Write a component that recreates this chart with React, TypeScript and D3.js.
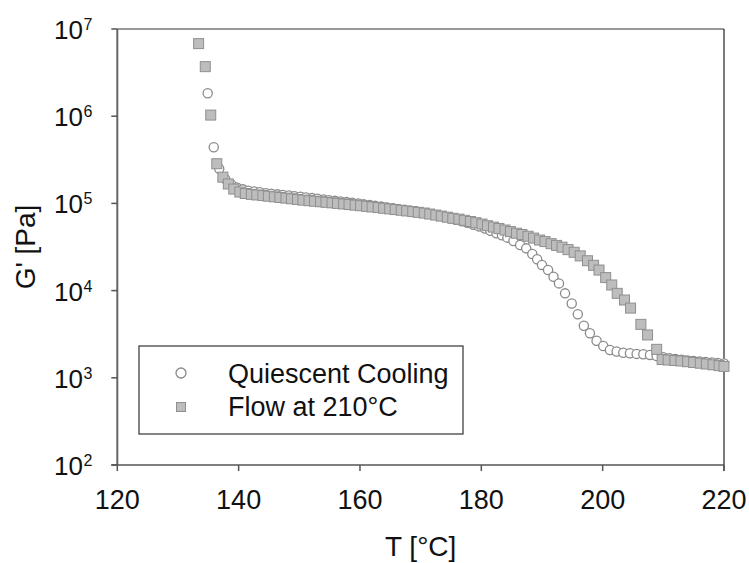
import React from "react";
import * as d3 from "d3";

const xTicks = [120, 140, 160, 180, 200, 220];
const yTickExps = [2, 3, 4, 5, 6, 7];

const flowT = [133.4, 134.5, 135.4, 136.4, 137.4, 138.3, 139.2, 140.2, 141.1, 142.1, 143.0, 144.0, 144.9, 145.9, 146.8, 147.8, 148.7, 149.7, 150.6, 151.6, 152.5, 153.5, 154.4, 155.4, 156.3, 157.3, 158.2, 159.2, 160.1, 161.1, 162.0, 163.0, 163.9, 164.9, 165.8, 166.8, 167.7, 168.7, 169.6, 170.6, 171.5, 172.5, 173.4, 174.4, 175.3, 176.3, 177.2, 178.2, 179.1, 180.1, 181.0, 182.0, 182.9, 183.9, 184.8, 185.8, 186.7, 187.7, 188.6, 189.6, 190.5, 191.5, 192.4, 193.3, 194.3, 195.3, 196.3, 197.5, 198.5, 199.4, 200.5, 201.5, 202.4, 203.6, 204.6, 206.3, 207.4, 208.9, 209.8, 210.8, 211.9, 212.9, 214.0, 215.0, 216.1, 217.1, 218.2, 219.2, 220.0];
const flowG = [6.8e6, 3.7e6, 1.03e6, 2.85e5, 2.0e5, 1.67e5, 1.46e5, 1.35e5, 1.3e5, 1.27e5, 1.25e5, 1.23e5, 1.21e5, 1.19e5, 1.17e5, 1.15e5, 1.13e5, 1.11e5, 1.09e5, 1.075e5, 1.06e5, 1.045e5, 1.03e5, 1.015e5, 1.0e5, 9.85e4, 9.7e4, 9.55e4, 9.4e4, 9.25e4, 9.1e4, 8.95e4, 8.8e4, 8.65e4, 8.5e4, 8.35e4, 8.2e4, 8.05e4, 7.9e4, 7.75e4, 7.55e4, 7.35e4, 7.15e4, 6.95e4, 6.75e4, 6.6e4, 6.4e4, 6.2e4, 6.0e4, 5.8e4, 5.55e4, 5.35e4, 5.15e4, 4.95e4, 4.75e4, 4.55e4, 4.4e4, 4.2e4, 4.0e4, 3.8e4, 3.65e4, 3.45e4, 3.3e4, 3.15e4, 2.95e4, 2.75e4, 2.5e4, 2.2e4, 1.95e4, 1.72e4, 1.41e4, 1.16e4, 9.3e3, 7.8e3, 6.3e3, 4.1e3, 3.1e3, 2.12e3, 1.62e3, 1.6e3, 1.58e3, 1.56e3, 1.53e3, 1.5e3, 1.47e3, 1.44e3, 1.41e3, 1.38e3, 1.35e3];

const quiT = [134.9, 135.9, 136.8, 137.8, 138.8, 139.7, 140.7, 141.6, 142.6, 143.5, 144.5, 145.4, 146.4, 147.3, 148.3, 149.2, 150.2, 151.1, 152.1, 153.0, 154.0, 154.9, 155.9, 156.8, 157.8, 158.7, 159.7, 160.6, 161.6, 162.5, 163.5, 164.4, 165.4, 166.3, 167.3, 168.2, 169.2, 170.1, 171.1, 172.0, 173.0, 173.9, 174.9, 175.8, 176.8, 177.7, 178.7, 179.6, 180.6, 181.5, 182.5, 183.4, 184.3, 185.3, 186.4, 187.4, 188.4, 189.2, 190.0, 191.0, 191.9, 192.8, 193.8, 194.9, 195.9, 196.9, 197.9, 199.0, 200.1, 201.2, 202.3, 203.4, 204.5, 205.6, 206.7, 207.8, 208.9, 210.0, 211.0, 212.0, 213.0, 214.0, 215.0, 216.0, 217.0, 218.0, 219.0, 220.0];
const quiG = [1.83e6, 4.4e5, 2.5e5, 1.9e5, 1.65e5, 1.52e5, 1.45e5, 1.4e5, 1.37e5, 1.34e5, 1.31e5, 1.29e5, 1.27e5, 1.25e5, 1.23e5, 1.21e5, 1.19e5, 1.17e5, 1.15e5, 1.13e5, 1.11e5, 1.09e5, 1.07e5, 1.05e5, 1.035e5, 1.02e5, 1.0e5, 9.8e4, 9.6e4, 9.4e4, 9.2e4, 9.0e4, 8.8e4, 8.6e4, 8.4e4, 8.2e4, 8.0e4, 7.8e4, 7.6e4, 7.4e4, 7.2e4, 7.0e4, 6.75e4, 6.5e4, 6.25e4, 6.0e4, 5.7e4, 5.45e4, 5.15e4, 4.85e4, 4.54e4, 4.3e4, 4.05e4, 3.7e4, 3.33e4, 3.05e4, 2.63e4, 2.29e4, 1.97e4, 1.72e4, 1.44e4, 1.21e4, 9.3e3, 7.1e3, 5.35e3, 3.95e3, 3.24e3, 2.66e3, 2.32e3, 2.08e3, 2.0e3, 1.94e3, 1.91e3, 1.88e3, 1.86e3, 1.83e3, 1.78e3, 1.72e3, 1.68e3, 1.64e3, 1.61e3, 1.58e3, 1.56e3, 1.54e3, 1.52e3, 1.5e3, 1.48e3, 1.46e3];

const legendLabels = ["Quiescent Cooling", "Flow at 210°C"];

const FONT = "'Liberation Sans', Arial, Helvetica, sans-serif";

export default function App() {
  const W = 749, H = 563;
  const left = 117.3, right = 724, top = 29, bottom = 465;
  const x = d3.scaleLinear().domain([120, 220]).range([left, right]);
  const y = d3.scaleLog().domain([1e2, 1e7]).range([bottom, top]);

  const sq = 10;
  return (
    <svg width={W} height={H} style={{ position: "absolute", left: 0, top: 0, background: "#fff" }} fontFamily={FONT}>
      <rect x={0} y={0} width={W} height={H} fill="#fff" />
      {/* frame */}
      <line x1={left} x2={right} y1={top} y2={top} stroke="#333" strokeWidth={1.2} />
      <line x1={right} x2={right} y1={top} y2={bottom + 6} stroke="#222" strokeWidth={1.2} />
      {/* circles (quiescent) */}
      {quiT.map((t, i) => (
        <circle key={"q" + i} cx={x(t)} cy={y(quiG[i])} r={4.6} fill="#fff" stroke="#8a8a8a" strokeWidth={1.3} />
      ))}
      {/* squares (flow) */}
      {flowT.map((t, i) => (
        <rect key={"f" + i} x={x(t) - sq / 2} y={y(flowG[i]) - sq / 2} width={sq} height={sq} fill="#bdbdbd" stroke="#8f8f8f" strokeWidth={1} />
      ))}
      {/* axes */}
      <line x1={left} x2={left} y1={top} y2={bottom} stroke="#666" strokeWidth={2} />
      <line x1={left - 6} x2={right} y1={bottom} y2={bottom} stroke="#555" strokeWidth={1.5} />
      {yTickExps.map((e) => (
        <g key={"yt" + e}>
          <line x1={left - 6} x2={left} y1={y(Math.pow(10, e))} y2={y(Math.pow(10, e))} stroke="#555" strokeWidth={1.5} />
          <text x={83} y={y(Math.pow(10, e)) + 10} textAnchor="end" fontSize={26} fill="#111">10</text>
          <text x={83.5} y={y(Math.pow(10, e)) + 1} textAnchor="start" fontSize={16} fill="#111">{e}</text>
        </g>
      ))}
      {xTicks.map((t) => (
        <g key={"xt" + t}>
          <line x1={x(t)} x2={x(t)} y1={bottom} y2={bottom + 6} stroke="#555" strokeWidth={1.5} />
          <text x={x(t)} y={509} textAnchor="middle" fontSize={27} fill="#111">{t}</text>
        </g>
      ))}
      <text x={(left + right) / 2} y={556} textAnchor="middle" fontSize={28} fill="#111">T [°C]</text>
      <text transform={`translate(35, ${(top + bottom) / 2}) rotate(-90)`} textAnchor="middle" fontSize={28} fill="#111">G' [Pa]</text>
      {/* legend */}
      <rect x={139} y={346} width={324} height={88} fill="#fff" stroke="#333" strokeWidth={1.2} />
      <circle cx={181} cy={373} r={5} fill="#fff" stroke="#8a8a8a" strokeWidth={1.3} />
      <rect x={176.5} y={402.5} width={9} height={9} fill="#bdbdbd" stroke="#8f8f8f" strokeWidth={1} />
      <text x={228} y={382.5} fontSize={27} fill="#111">{legendLabels[0]}</text>
      <text x={228} y={416} fontSize={27} fill="#111">{legendLabels[1]}</text>
    </svg>
  );
}
